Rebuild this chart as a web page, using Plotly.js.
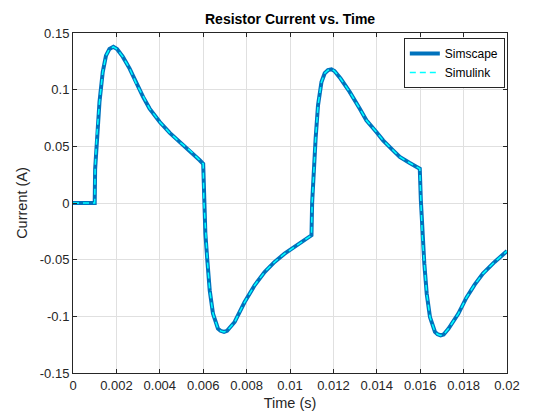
<!DOCTYPE html>
<html>
<head>
<meta charset="utf-8">
<script src="https://cdn.plot.ly/plotly-3.0.1.min.js"></script>
<style>html,body{margin:0;padding:0;background:#fff;}#chart{width:560px;height:420px;}</style>
</head>
<body>
<div id="chart"></div>
<script>
// Time samples (s)
const time = [0, 0.001, 0.00102, 0.0011, 0.00122, 0.00137, 0.00152, 0.00168, 0.00186, 0.00203, 0.0023, 0.00261, 0.00292, 0.00323, 0.00353, 0.004, 0.00446, 0.00492, 0.00538, 0.00584, 0.006,
  0.00603, 0.0061, 0.00619, 0.0063, 0.00645, 0.00668, 0.0068, 0.00696, 0.0071, 0.00745, 0.00791, 0.00837, 0.00883, 0.00929, 0.00975, 0.01021, 0.01067, 0.01099,
  0.01102, 0.01109, 0.01118, 0.01129, 0.01145, 0.0116, 0.01175, 0.01191, 0.01205, 0.01233, 0.01275, 0.01321, 0.01352, 0.01398, 0.01429, 0.01475, 0.01506, 0.01552, 0.01598,
  0.01603, 0.0161, 0.01619, 0.0163, 0.01645, 0.01668, 0.0168, 0.01694, 0.01708, 0.0173, 0.01776, 0.01813, 0.01851, 0.01889, 0.01943, 0.02];
// Resistor current (A), Simscape model
const simscapeCurrent = [0, 0, 0.03, 0.06, 0.089, 0.1156, 0.130, 0.136, 0.1378, 0.1358, 0.1289, 0.1186, 0.1054, 0.0936, 0.0833, 0.0715, 0.0618, 0.0538, 0.0465, 0.0377, 0.0345,
  0.0024, -0.027, -0.0506, -0.077, -0.0976, -0.1109, -0.1128, -0.1138, -0.1128, -0.105, -0.0874, -0.0726, -0.0609, -0.052, -0.0447, -0.0388, -0.0329, -0.0285,
  0.0, 0.0303, 0.0568, 0.086, 0.1068, 0.1145, 0.1172, 0.118, 0.1165, 0.1098, 0.098, 0.0833, 0.073, 0.0627, 0.0553, 0.0465, 0.0406, 0.0353, 0.0303,
  0.0024, -0.030, -0.0535, -0.080, -0.1006, -0.1138, -0.1158, -0.1168, -0.116, -0.111, -0.0976, -0.0835, -0.072, -0.0623, -0.052, -0.0424];
// Resistor current (A), Simulink model (overlaps the Simscape result)
const simulinkCurrent = simscapeCurrent.slice();

const xTicks = [0, 0.002, 0.004, 0.006, 0.008, 0.01, 0.012, 0.014, 0.016, 0.018, 0.02];
const xTickLabels = ['0', '0.002', '0.004', '0.006', '0.008', '0.01', '0.012', '0.014', '0.016', '0.018', '0.02'];
const yTicks = [-0.15, -0.1, -0.05, 0, 0.05, 0.1, 0.15];
const yTickLabels = ['-0.15', '-0.1', '-0.05', '0', '0.05', '0.1', '0.15'];

const font = 'Liberation Sans, Arial, Helvetica, sans-serif';
const axisColor = '#262626';

const traces = [
  {x: time, y: simscapeCurrent, type: 'scatter', mode: 'lines', name: 'Simscape',
   line: {color: '#0072BD', width: 4}},
  {x: time, y: simulinkCurrent, type: 'scatter', mode: 'lines', name: 'Simulink',
   line: {color: '#00FFFF', width: 1.5, dash: '6px,4px'}}
];

const axisCommon = {
  showline: true, linecolor: axisColor, linewidth: 1, mirror: 'ticks',
  ticks: 'inside', ticklen: 4, tickcolor: axisColor, tickwidth: 1,
  showgrid: true, gridcolor: '#e0e0e0', gridwidth: 1, zeroline: false,
  tickfont: {family: font, size: 13, color: axisColor}
};

const layout = {
  width: 560, height: 420,
  paper_bgcolor: '#ffffff', plot_bgcolor: '#ffffff',
  margin: {l: 73, r: 53, t: 33, b: 47},
  title: {text: '<b>Resistor Current vs. Time</b>', x: 0.518, xref: 'container', y: 0.955, yanchor: 'middle',
          font: {family: font, size: 14, color: '#000000'}},
  xaxis: Object.assign({}, axisCommon, {
    range: [0, 0.02], tickvals: xTicks, ticktext: xTickLabels,
    title: {text: 'Time (s)', font: {family: font, size: 14.5, color: axisColor}, standoff: 6}
  }),
  yaxis: Object.assign({}, axisCommon, {
    range: [-0.15, 0.15], tickvals: yTicks, ticktext: yTickLabels,
    title: {text: 'Current (A)', font: {family: font, size: 14.5, color: axisColor}, standoff: 8}
  }),
  legend: {x: 0.995, xanchor: 'right', y: 0.985, yanchor: 'top',
           bgcolor: '#ffffff', bordercolor: '#262626', borderwidth: 1,
           font: {family: font, size: 12, color: '#000000'},
           tracegroupgap: 0, itemwidth: 30},
  showlegend: true
};

Plotly.newPlot('chart', traces, layout, {displayModeBar: false, staticPlot: true});
</script>
</body>
</html>
